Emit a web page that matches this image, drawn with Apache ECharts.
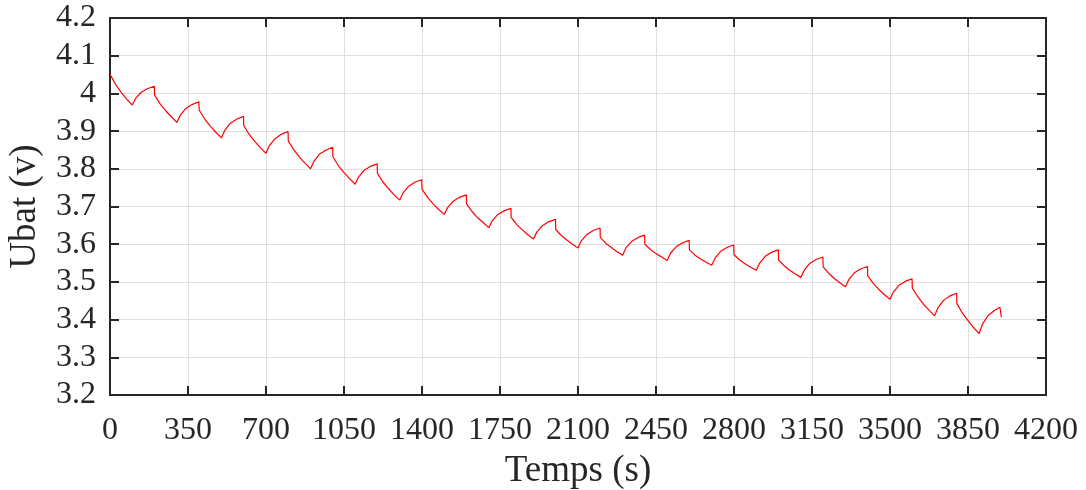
<!DOCTYPE html>
<html>
<head>
<meta charset="utf-8">
<script src="https://cdn.jsdelivr.net/npm/echarts@6/dist/echarts.min.js"></script>
<style>
html,body{margin:0;padding:0;background:#fff;}
#chart{width:1086px;height:490px;}
</style>
</head>
<body>
<div id="chart"></div>
<script>
// Time (s)
const temps = [
  0,25,50,75,100,115,140,170,199,
  200,225,250,275,300,315,340,370,399,
  400,425,450,475,500,515,540,570,599,
  600,625,650,675,700,715,740,770,799,
  800,825,850,875,900,915,940,970,999,
  1000,1025,1050,1075,1100,1115,1140,1170,1199,
  1200,1225,1250,1275,1300,1315,1340,1370,1399,
  1400,1425,1450,1475,1500,1515,1540,1570,1599,
  1600,1625,1650,1675,1700,1715,1740,1770,1799,
  1800,1825,1850,1875,1900,1915,1940,1970,1999,
  2000,2025,2050,2075,2100,2115,2140,2170,2199,
  2200,2225,2250,2275,2300,2315,2340,2370,2399,
  2400,2425,2450,2475,2500,2515,2540,2570,2599,
  2600,2625,2650,2675,2700,2715,2740,2770,2799,
  2800,2825,2850,2875,2900,2915,2940,2970,2999,
  3000,3025,3050,3075,3100,3115,3140,3170,3199,
  3200,3225,3250,3275,3300,3315,3340,3370,3399,
  3400,3425,3450,3475,3500,3515,3540,3570,3599,
  3600,3625,3650,3675,3700,3715,3740,3770,3799,
  3800,3825,3850,3875,3900,3915,3940,3970,3993,4000
];
// Battery voltage Ubat (V)
const ubat = [
  4.051,4.024,4.003,3.985,3.969,3.987,4.003,4.013,4.019,
  3.996,3.972,3.954,3.938,3.923,3.942,3.960,3.971,3.978,
  3.956,3.932,3.913,3.897,3.882,3.902,3.921,3.932,3.939,
  3.915,3.891,3.872,3.856,3.841,3.861,3.880,3.892,3.899,
  3.874,3.850,3.831,3.815,3.800,3.820,3.839,3.850,3.857,
  3.832,3.808,3.790,3.774,3.759,3.778,3.796,3.807,3.813,
  3.788,3.765,3.747,3.731,3.717,3.736,3.754,3.765,3.771,
  3.746,3.724,3.707,3.692,3.679,3.697,3.714,3.725,3.731,
  3.707,3.686,3.670,3.657,3.644,3.662,3.679,3.689,3.695,
  3.671,3.652,3.638,3.625,3.614,3.632,3.649,3.660,3.666,
  3.639,3.623,3.611,3.600,3.590,3.609,3.626,3.637,3.643,
  3.618,3.602,3.591,3.580,3.571,3.590,3.607,3.618,3.624,
  3.600,3.586,3.575,3.566,3.557,3.576,3.593,3.604,3.610,
  3.585,3.571,3.561,3.552,3.544,3.563,3.581,3.592,3.598,
  3.572,3.558,3.548,3.539,3.531,3.550,3.568,3.579,3.585,
  3.558,3.543,3.531,3.521,3.512,3.531,3.549,3.560,3.566,
  3.540,3.523,3.509,3.498,3.487,3.506,3.524,3.535,3.541,
  3.516,3.496,3.480,3.466,3.454,3.473,3.491,3.502,3.508,
  3.484,3.460,3.441,3.425,3.410,3.431,3.451,3.463,3.470,
  3.443,3.417,3.397,3.379,3.363,3.388,3.411,3.425,3.433,3.406
];
const xTicks = [0,350,700,1050,1400,1750,2100,2450,2800,3150,3500,3850,4200];
const yTicks = [3.2,3.3,3.4,3.5,3.6,3.7,3.8,3.9,4.0,4.1,4.2];
const xTitle = 'Temps (s)';
const yTitle = 'Ubat (v)';

const FONT = '"Liberation Serif", "Times New Roman", serif';
const AX = '#262626';
const GRID = '#dfdfdf';

const xMin = xTicks[0], xMax = xTicks[xTicks.length-1], xInt = xTicks[1]-xTicks[0];
const yMin = yTicks[0], yMax = yTicks[yTicks.length-1], yInt = 0.1;

function baseX(extra){
  return Object.assign({
    type:'value', min:xMin, max:xMax, interval:xInt,
    axisLine:{show:true, onZero:false, lineStyle:{color:AX, width:2}},
    axisTick:{show:true, inside:true, length:9, lineStyle:{color:AX, width:2}},
  }, extra);
}
function baseY(extra){
  return Object.assign({
    type:'value', min:yMin, max:yMax, interval:yInt,
    axisLine:{show:true, onZero:false, lineStyle:{color:AX, width:2}},
    axisTick:{show:true, inside:true, length:9, lineStyle:{color:AX, width:2}},
  }, extra);
}

const chart = echarts.init(document.getElementById('chart'), null, {renderer:'canvas'});
chart.setOption({
  animation:false,
  backgroundColor:'#ffffff',
  textStyle:{fontFamily:FONT},
  grid:{left:110, right:40, top:18, bottom:95, containLabel:false, outerBoundsMode:'none'},
  xAxis:[
    baseX({position:'bottom',
      name:xTitle, nameLocation:'middle', nameGap:58,
      nameTextStyle:{fontFamily:FONT, fontSize:37, color:AX},
      axisLabel:{show:true, margin:20, fontFamily:FONT, fontSize:32, color:AX,
        formatter:function(v){return String(Math.round(v));}},
      splitLine:{show:true, lineStyle:{color:GRID, width:1}}
    }),
    baseX({position:'top', axisLabel:{show:false}, splitLine:{show:false}})
  ],
  yAxis:[
    baseY({position:'left',
      name:yTitle, nameLocation:'middle', nameGap:66, nameRotate:90,
      nameTextStyle:{fontFamily:FONT, fontSize:37, color:AX},
      axisLabel:{show:true, margin:14, fontFamily:FONT, fontSize:32, color:AX,
        formatter:function(v){return String(+(+v).toFixed(1));}},
      splitLine:{show:true, lineStyle:{color:GRID, width:1}}
    }),
    baseY({position:'right', axisLabel:{show:false}, splitLine:{show:false}})
  ],
  series:[{
    type:'line',
    xAxisIndex:0, yAxisIndex:0,
    data: temps.map(function(t,i){return [t, ubat[i]];}),
    showSymbol:false, symbol:'none',
    lineStyle:{color:'#ff0000', width:1.2},
    z:5
  }]
});
</script>
</body>
</html>
